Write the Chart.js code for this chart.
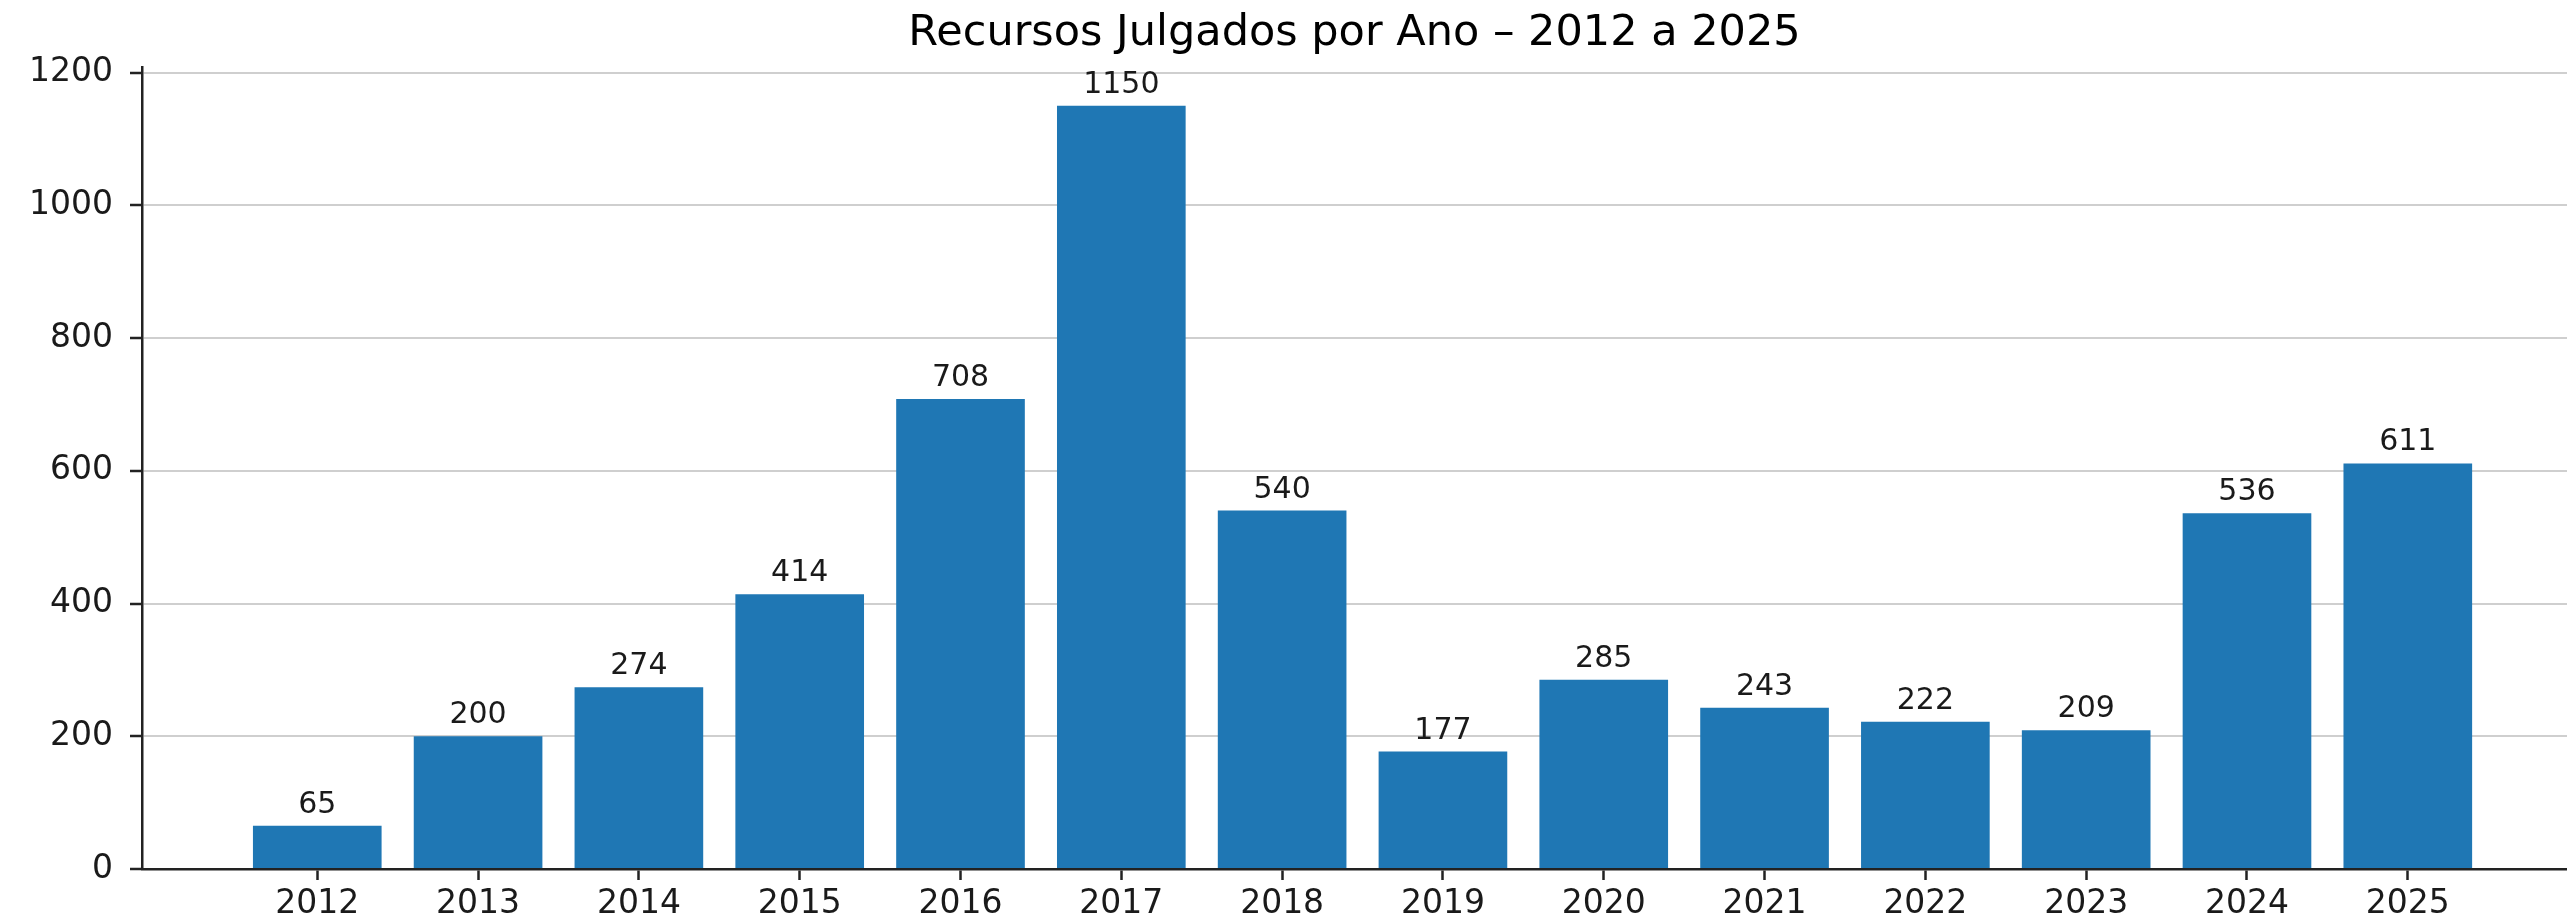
<!DOCTYPE html>
<html>
  <head>
    <title>Recursos Julgados por Ano – 2012 a 2025</title>
    <script src="https://cdn.jsdelivr.net/npm/chart.js"></script>
    <style>
      body { margin: 0; background: #fff; }
      canvas { display: block; }
    </style>
  </head>
  <body>
    <canvas id="grafico" width="2567" height="923"></canvas>

    <script>
      // dados
      const anos = ['2012', '2013', '2014', '2015', '2016', '2017', '2018', '2019', '2020', '2021', '2022', '2023', '2024', '2025'];
      const recursos = [65, 200, 274, 414, 708, 1150, 540, 177, 285, 243, 222, 209, 536, 611];
      const yTicks = [0, 200, 400, 600, 800, 1000, 1200];

      const corBarra = '#1f77b4';
      const corEixo = '#222222';
      const fonte = 'DejaVu Sans';

      // rótulos com o valor em cima de cada barra
      const rotulosBarras = {
        id: 'rotulosBarras',
        afterDatasetsDraw(chart) {
          const ctx = chart.ctx;
          const meta = chart.getDatasetMeta(0);
          ctx.save();
          ctx.font = `30px "${fonte}"`;
          ctx.fillStyle = '#1a1a1a';
          ctx.textAlign = 'center';
          ctx.textBaseline = 'alphabetic';
          meta.data.forEach((barra, i) => {
            ctx.fillText(String(recursos[i]), barra.x, barra.y - 13);
          });
          ctx.restore();
        }
      };

      const ctx = document.getElementById('grafico').getContext('2d');

      new Chart(ctx, {
        type: 'bar',
        data: {
          datasets: [{
            label: 'Recursos julgados',
            data: recursos.map((v, i) => ({ x: i, y: v })),
            backgroundColor: corBarra,
            borderWidth: 0,
            categoryPercentage: 1,
            barPercentage: 0.8
          }]
        },
        options: {
          responsive: false,
          animation: false,
          layout: { padding: { left: 12, right: 0, top: 0, bottom: -6 } },
          plugins: {
            legend: { display: false },
            tooltip: { enabled: false },
            title: {
              display: true,
              text: 'Recursos Julgados por Ano – 2012 a 2025',
              fullSize: false,
              color: '#000',
              font: { family: fonte, size: 43, weight: 'normal' },
              padding: { top: 8, bottom: 8 }
            }
          },
          scales: {
            x: {
              type: 'linear',
              offset: false,
              min: -1.09,
              max: 13.99,
              afterBuildTicks: (scale) => {
                scale.ticks = anos.map((a, i) => ({ value: i }));
              },
              ticks: {
                callback: (v) => anos[v],
                color: '#1a1a1a',
                font: { family: fonte, size: 33, lineHeight: 1 },
                padding: 8,
                maxRotation: 0,
                autoSkip: false
              },
              grid: {
                offset: false,
                drawOnChartArea: false,
                drawTicks: true,
                tickLength: 11,
                tickColor: corEixo,
                tickWidth: 2.5
              },
              border: { display: true, color: corEixo, width: 2.5 }
            },
            y: {
              min: 0,
              max: 1207.5,
              afterBuildTicks: (scale) => {
                scale.ticks = yTicks.map(v => ({ value: v }));
              },
              ticks: {
                callback: (v) => String(v),
                color: '#1a1a1a',
                font: { family: fonte, size: 33 },
                padding: 17
              },
              grid: {
                color: '#cfcfcf',
                lineWidth: 2,
                tickLength: 12,
                tickColor: corEixo,
                tickWidth: 2.5
              },
              border: { display: true, color: corEixo, width: 2.5 }
            }
          }
        },
        plugins: [rotulosBarras]
      });
    </script>
  </body>
</html>
